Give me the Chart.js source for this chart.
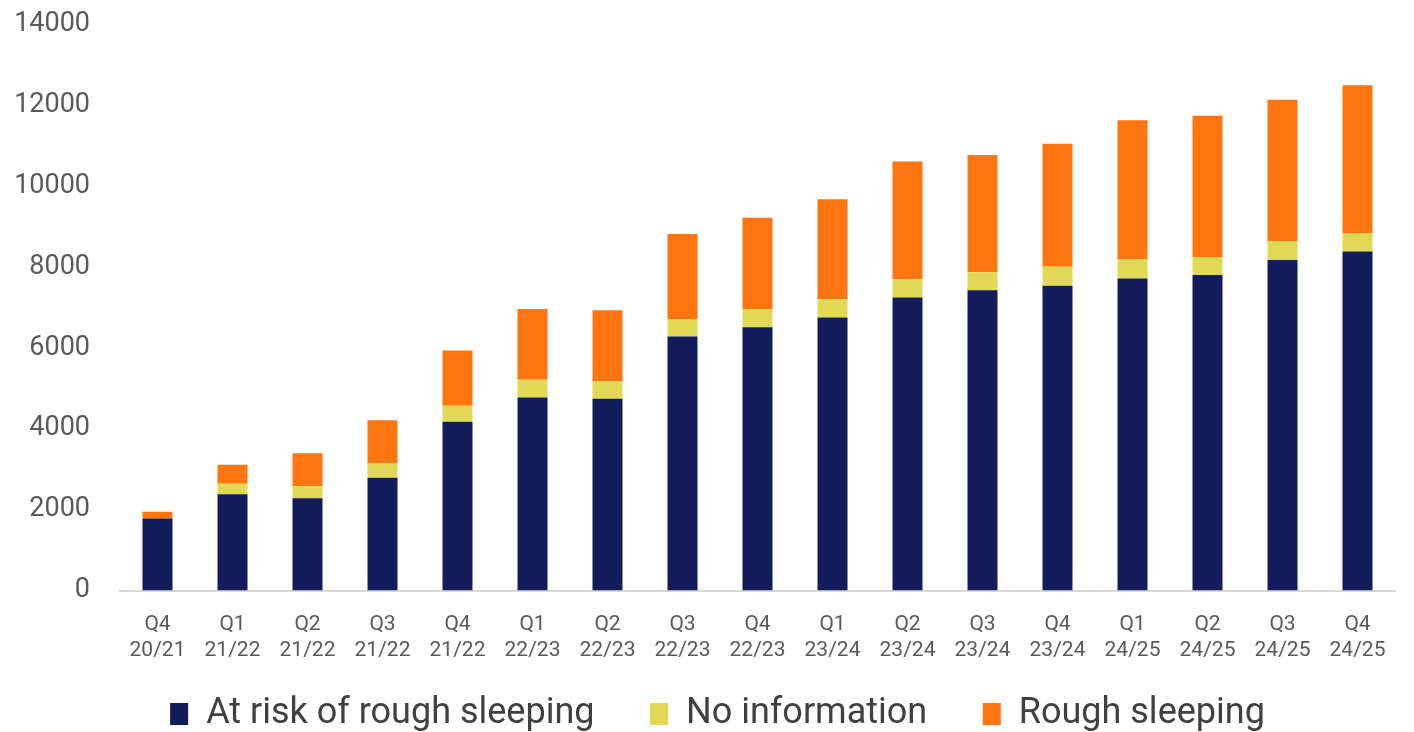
<!DOCTYPE html>
<html>
<head>
<meta charset="utf-8">
<script src="https://cdn.jsdelivr.net/npm/chart.js@4.4.1/dist/chart.umd.min.js"></script>
<style>
  html, body { margin: 0; padding: 0; background: #fff; }
  #wrap { width: 1414px; height: 732px; }
</style>
</head>
<body>
<div id="wrap"><canvas id="grafico"></canvas></div>
<script>
// categorias (trimestre / ano)
const trimestres = ['Q4','Q1','Q2','Q3','Q4','Q1','Q2','Q3','Q4','Q1','Q2','Q3','Q4','Q1','Q2','Q3','Q4'];
const anos = ['20/21','21/22','21/22','21/22','21/22','22/23','22/23','22/23','22/23','23/24','23/24','23/24','23/24','24/25','24/25','24/25','24/25'];

// valores
const emRisco = [1780, 2380, 2280, 2790, 4170, 4770, 4740, 6280, 6510, 6750, 7240, 7420, 7530, 7710, 7800, 8170, 8380];
const semInfo = [0, 260, 300, 350, 400, 440, 430, 430, 450, 450, 455, 445, 470, 470, 445, 470, 455];
const dormindoNaRua = [170, 470, 815, 1070, 1360, 1750, 1760, 2100, 2250, 2470, 2910, 2900, 3040, 3440, 3490, 3490, 3650];

const ticksY = [0, 2000, 4000, 6000, 8000, 10000, 12000, 14000];

const nomesSeries = ['At risk of rough sleeping', 'No information', 'Rough sleeping'];
const cores = ['#121c5a', '#e1d955', '#ff7510'];

const labels = trimestres.map((q, i) => [q, anos[i]]);

const ctx = document.getElementById('grafico');

// empurra a legenda um pouco pra direita, como no original
const moveLegenda = {
  id: 'moveLegenda',
  afterLayout(chart) {
    if (chart.legend) chart.legend.left += 40;
  }
};

const grafico = new Chart(ctx, {
  type: 'bar',
  data: {
    labels: labels,
    datasets: [
      { label: nomesSeries[0], data: emRisco, backgroundColor: cores[0] },
      { label: nomesSeries[1], data: semInfo, backgroundColor: cores[1] },
      { label: nomesSeries[2], data: dormindoNaRua, backgroundColor: cores[2] }
    ]
  },
  plugins: [moveLegenda],
  options: {
    responsive: true,
    maintainAspectRatio: false,
    animation: false,
    datasets: { bar: { barPercentage: 0.4, categoryPercentage: 1.0 } },
    layout: { padding: { top: 24, right: 19, bottom: -10, left: 0 } },
    scales: {
      x: {
        stacked: true,
        afterFit: (scale) => { scale.height += 9; }, // espaco ate a legenda
        grid: { display: false, drawTicks: false },
        border: { display: true, color: '#d9d9d9', width: 2 },
        ticks: {
          color: '#595959',
          font: { family: 'Roboto', size: 21 },
          padding: 22,
          maxRotation: 0,
          autoSkip: false
        }
      },
      y: {
        stacked: true,
        min: 0,
        max: 14000,
        afterFit: (scale) => {
          scale.width = 120;
          scale.paddingTop = 0;
          scale.paddingBottom = 0;
        },
        afterBuildTicks: (scale) => { scale.ticks = ticksY.map(v => ({ value: v })); },
        grid: { display: false, drawTicks: false },
        border: { display: false },
        ticks: {
          color: '#595959',
          font: { family: 'Roboto', size: 27 },
          padding: 30,
          callback: (valor) => String(valor)
        }
      }
    },
    plugins: {
      tooltip: { enabled: false },
      legend: {
        position: 'bottom',
        labels: {
          color: '#404040',
          font: { family: 'Roboto', size: 36 },
          boxWidth: 18,
          boxHeight: 22,
          padding: 2,
          // espaco extra entre os itens da legenda
          generateLabels: (chart) => {
            const itens = Chart.defaults.plugins.legend.labels.generateLabels(chart);
            itens.forEach((item, i) => {
              if (i < itens.length - 1) item.text = item.text + '      ';
            });
            return itens;
          }
        }
      }
    }
  }
});
</script>
</body>
</html>
